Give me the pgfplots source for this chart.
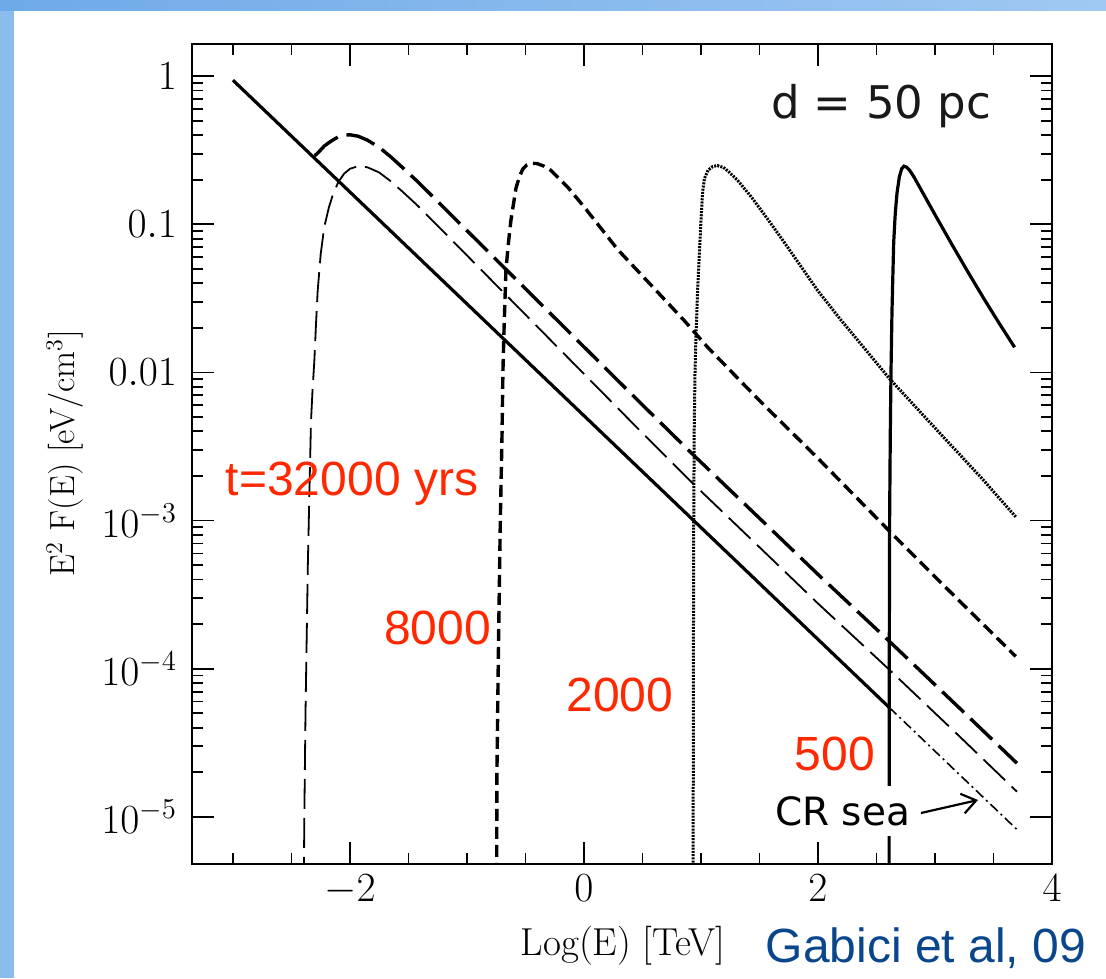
\documentclass[border=0pt]{standalone}
\usepackage{pgfplots}
\pgfplotsset{compat=1.18}
\usepackage{fontspec}
\newfontfamily\dejavu{DejaVu Sans}
\newfontfamily\libsans{Liberation Sans}
\usetikzlibrary{arrows.meta}
\definecolor{slidered}{RGB}{255,40,0}
\definecolor{slideblue}{RGB}{10,70,140}
\definecolor{bgblue}{RGB}{140,188,238}
\definecolor{bgblueA}{RGB}{110,170,232}
\definecolor{bgblueB}{RGB}{160,200,242}
\begin{document}
\begin{tikzpicture}
\begin{scope}[x=0.5pt,y=-0.5pt]
\fill[white] (0,0) rectangle (1106,978);
\fill[bgblue] (0,0) rectangle (14,978);
\shade[left color=bgblueA,right color=bgblueB] (0,0) rectangle (1106,11);
\end{scope}
\begin{axis}[
  anchor=south west, at={(96pt,-432pt)},
  width=430pt, height=410pt, scale only axis,
  xmin=-3.35, xmax=4.0,
  ymode=log, ymin=4.8e-6, ymax=1.65,
  xtick={-4,-2,0,2,4}, minor x tick num=3,
  ytick={1e-5,1e-4,1e-3,1e-2,1e-1,1},
  yticklabels={$10^{-5}$,$10^{-4}$,$10^{-3}$,$0.01$,$0.1$,$1$},
  major tick length=11pt, minor tick length=5.5pt,
  tick label style={font=\fontsize{20}{22}\selectfont},
  xticklabel shift=2pt, yticklabel shift=4pt,
  axis line style={line width=1pt},
  every tick/.append style={line width=0.9pt, black},
  clip=true,
]
% CR sea (solid part, coincides with t=500 below its cutoff)
\addplot[black, line width=1.6pt] coordinates {(-3.0,0.9397) (2.609,5.47e-5)};
% CR sea continuation (dash-dot)
\addplot[black, line width=0.8pt, dash pattern=on 5pt off 2pt on 1pt off 2pt] coordinates {(2.609,5.47e-5) (3.7,8.21e-6)};
% t = 32000 yrs, source only (thin long dash)
\addplot[black, line width=0.9pt, dash pattern=on 15pt off 4.5pt] coordinates {
(-2.400,1e-6) (-2.390,1e-5) (-2.380,5.01e-5) (-2.360,5.01e-4) (-2.345,1.778e-3)
(-2.333,4.677e-3) (-2.320,7.586e-3) (-2.305,0.011749) (-2.290,0.021380) (-2.276,0.035481)
(-2.250,0.063096) (-2.220,0.095499) (-2.180,0.13032) (-2.148,0.15668) (-2.100,0.19275)
(-2.050,0.21979) (-2.000,0.23714) (-1.930,0.24717) (-1.850,0.24266) (-1.750,0.22387)
(-1.650,0.19498) (-1.550,0.16596) (-1.420,0.13335) (-1.200,0.089125) (-0.900,0.051286)
(-0.500,0.024547) (0.000,0.0097724) (0.500,0.0038905) (0.937,0.0017620) (1.500,6.6069e-4)
(2.000,2.7542e-4) (2.595,1.0093e-4) (3.200,3.5481e-5) (3.700,1.4791e-5)};
% t = 32000 yrs, sea + source (thick long dash)
\addplot[black, line width=1.7pt, dash pattern=on 15pt off 4.5pt] coordinates {
(-2.305,0.2923) (-2.290,0.2948) (-2.276,0.3024) (-2.250,0.3182) (-2.220,0.3376)
(-2.180,0.3562) (-2.148,0.3703) (-2.100,0.3894) (-2.050,0.4000) (-2.000,0.4023)
(-1.930,0.3935) (-1.850,0.3699) (-1.750,0.3309) (-1.650,0.2849) (-1.550,0.2415)
(-1.420,0.1937) (-1.200,0.1302) (-0.900,0.0757) (-0.500,0.03673) (0.000,0.014877)
(0.500,0.006030) (0.937,0.002763) (1.500,0.001037) (2.000,4.332e-4) (2.595,1.570e-4)
(3.200,5.507e-5) (3.700,2.300e-5)};
% t = 8000 yrs (short dash)
\addplot[black, line width=1.7pt, dash pattern=on 6pt off 3pt] coordinates {
(-0.748,1e-6) (-0.744,1.995e-5) (-0.730,1.585e-4) (-0.715,1e-3) (-0.700,3.981e-3)
(-0.693,0.01) (-0.683,0.019953) (-0.667,0.048978) (-0.645,0.075858) (-0.624,0.10715)
(-0.600,0.14125) (-0.581,0.17579) (-0.550,0.21135) (-0.524,0.23550) (-0.490,0.25119)
(-0.453,0.25823) (-0.400,0.25704) (-0.340,0.24660) (-0.282,0.23121) (-0.139,0.17824)
(0.003,0.13062) (0.288,0.067608) (0.573,0.038905) (0.857,0.022387) (1.057,0.014791)
(1.500,0.0064565) (2.000,0.0026303) (2.609,8.5114e-4) (3.000,4.1687e-4) (3.690,1.2106e-4)};
% t = 2000 yrs (dotted)
\addplot[black, line width=1.5pt, dash pattern=on 1pt off 0.6pt] coordinates {
(0.932,1e-6) (0.935,1e-4) (0.938,1e-3) (0.942,3.981e-3) (0.949,0.010233)
(0.957,0.017378) (0.972,0.037154) (0.986,0.063096) (1.000,0.10715) (1.014,0.16596)
(1.030,0.20417) (1.060,0.23174) (1.100,0.24547) (1.140,0.24946) (1.190,0.24266)
(1.230,0.22909) (1.310,0.19953) (1.430,0.15311) (1.570,0.10839) (1.710,0.075858)
(2.000,0.035481) (2.200,0.022387) (2.400,0.014454) (2.609,0.0091201) (3.000,0.0042170)
(3.400,0.0019275) (3.690,0.0010593)};
% t = 500 yrs (solid)
\addplot[black, line width=1.6pt] coordinates {
(2.607,1e-6) (2.609,1e-4) (2.612,1e-3) (2.618,3.981e-3) (2.624,0.010233)
(2.632,0.025119) (2.638,0.039811) (2.647,0.075858) (2.660,0.11749) (2.675,0.16218)
(2.695,0.20893) (2.715,0.23714) (2.735,0.24717) (2.755,0.24378) (2.780,0.23335)
(2.820,0.20893) (2.880,0.17179) (3.000,0.11614) (3.140,0.074131) (3.280,0.047863)
(3.420,0.031261) (3.550,0.021380) (3.680,0.014791)};
\end{axis}
\begin{scope}[x=0.5pt,y=-0.5pt]
\node[rotate=90, font=\fontsize{17.5}{20}\selectfont, inner sep=0] at (65,453) {E$^2$ F(E) [eV/cm$^3$]};
\node[font=\fontsize{19.5}{22}\selectfont, inner sep=0] at (623,946) {Log(E) [TeV]};
\node[font=\dejavu\fontsize{22.5}{26}\selectfont, text=black!90, inner sep=0] at (881,106.5) {d = 50 pc};
\node[font=\dejavu\fontsize{19.5}{22}\selectfont, fill=white, inner xsep=1pt, inner ysep=5pt] at (842.5,811) {CR sea};
\draw[line width=1.1pt, -{Straight Barb[length=7pt,width=10pt]}] (921,813) -- (978,800);
\node[font=\libsans\fontsize{24}{28}\selectfont, text=slidered, inner sep=0] at (352,484) {t=32000 yrs};
\node[font=\libsans\fontsize{24}{28}\selectfont, text=slidered, inner sep=0] at (437.5,628) {8000};
\node[font=\libsans\fontsize{24}{28}\selectfont, text=slidered, inner sep=0] at (620,695) {2000};
\node[font=\libsans\fontsize{24}{28}\selectfont, text=slidered, inner sep=0] at (835,754) {500};
\node[font=\libsans\fontsize{24}{28}\selectfont, text=slideblue, inner sep=0] at (926,948) {Gabici et al, 09};
\end{scope}
\end{tikzpicture}
\end{document}
